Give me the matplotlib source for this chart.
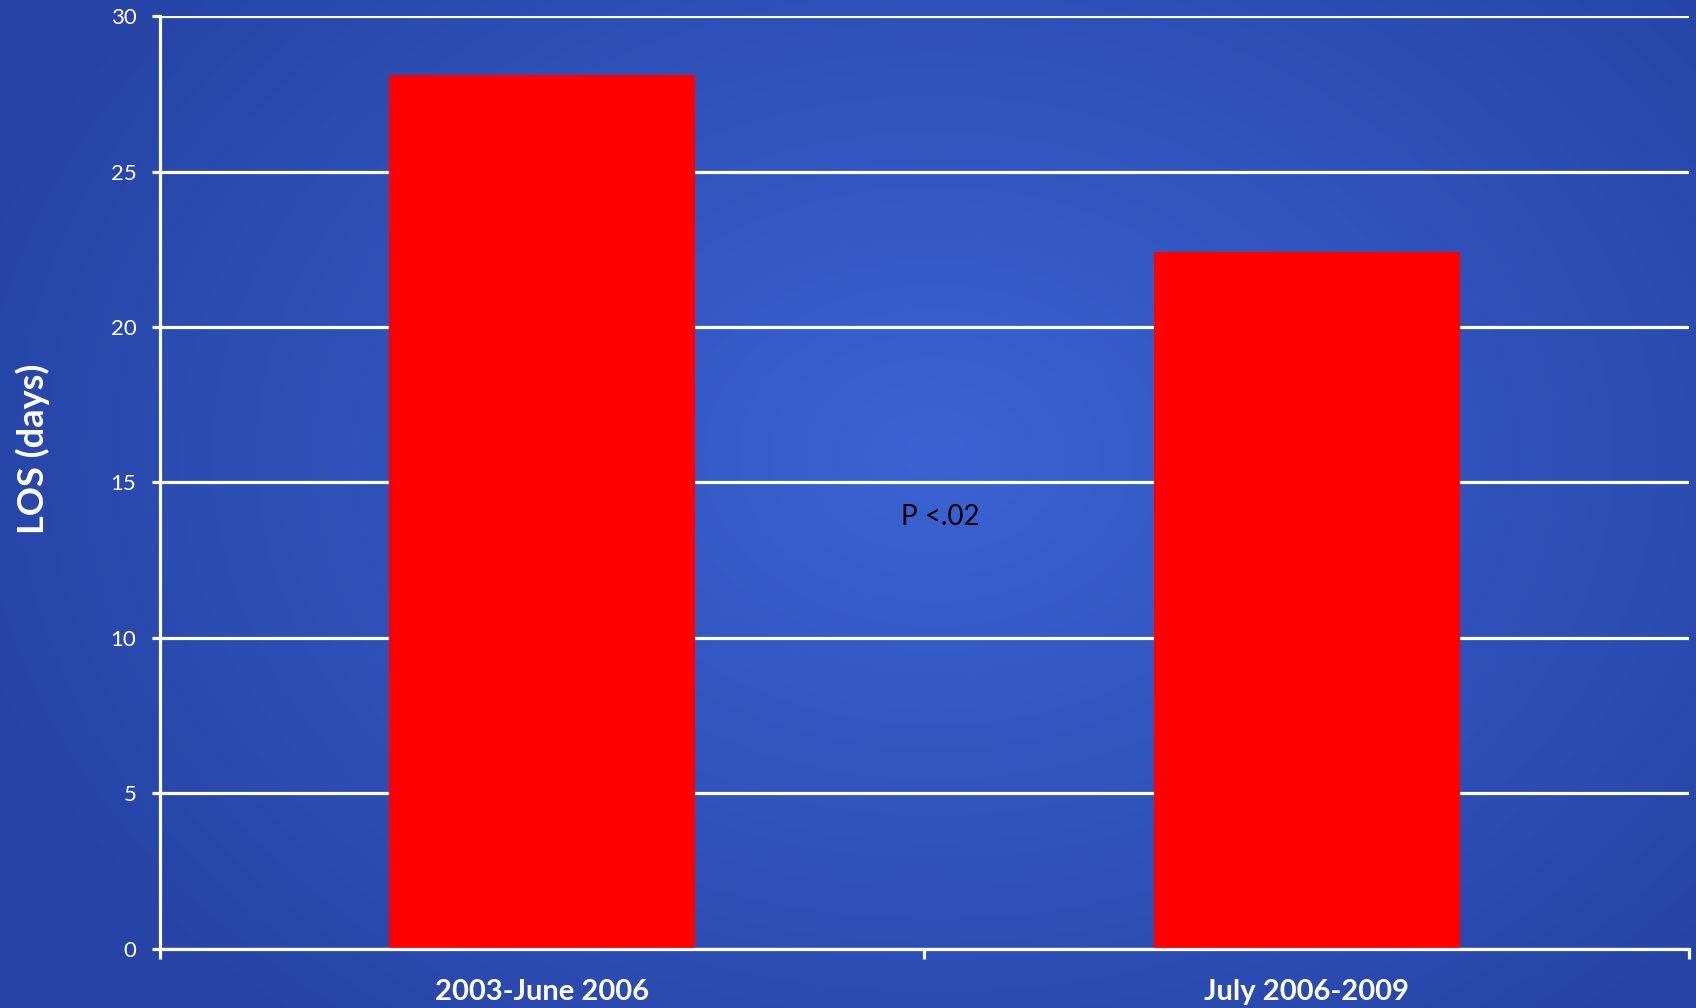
import numpy as np
import matplotlib
matplotlib.use("Agg")
import matplotlib.pyplot as plt
from matplotlib.colors import to_rgb

categories = ["2003-June 2006", "July 2006-2009"]
los_days = [28.1, 22.4]
y_ticks = [0, 5, 10, 15, 20, 25, 30]
annotation = "P <.02"

plt.rcParams['font.family'] = ['Lato', 'DejaVu Sans']

fig = plt.figure(figsize=(16.96, 10.08), dpi=100)

# background radial gradient
bg = fig.add_axes([0, 0, 1, 1], zorder=0)
bg.set_axis_off()
h, w = 252, 424
yy, xx = np.mgrid[0:h, 0:w]
cx, cy = w * 0.55, h * 0.45
r = np.sqrt(((xx - cx) / (w * 0.6)) ** 2 + ((yy - cy) / (h * 0.75)) ** 2)
r = np.clip(r, 0, 1)
c_center = np.array(to_rgb("#3b63d3"))
c_edge = np.array(to_rgb("#2644a6"))
img = c_center[None, None, :] * (1 - r[..., None]) + c_edge[None, None, :] * r[..., None]
bg.imshow(img, aspect='auto', extent=[0, 1, 0, 1], interpolation='bilinear')
bg.set_xlim(0, 1); bg.set_ylim(0, 1)

ax = fig.add_axes([0.0943, 0.0589, 0.9016, 0.925], zorder=1)
ax.patch.set_alpha(0)

x = np.arange(len(categories))
ax.bar(x, los_days, width=0.4, color="#ff0000", zorder=3)

ax.set_xlim(-0.5, 1.5)
ax.set_ylim(0, 30)
ax.set_yticks(y_ticks)
ax.set_yticklabels([str(t) for t in y_ticks], color="white", fontsize=16)
ax.yaxis.grid(True, color="white", linewidth=2.3, zorder=1)
ax.set_axisbelow(True)

ax.set_xticks([-0.5, 0.5, 1.5])
ax.set_xticklabels([])
ax.set_xticks(x, minor=True)
ax.set_xticklabels(categories, minor=True, color="white", fontsize=21, fontweight="bold")
ax.tick_params(axis='x', which='minor', length=0, pad=22)
ax.tick_params(axis='x', which='major', length=7, width=2.3, color="white", direction='out')
ax.tick_params(axis='y', length=6, width=2.3, color="white", pad=11)

for s in ["top", "right"]:
    ax.spines[s].set_visible(False)
for s in ["left", "bottom"]:
    ax.spines[s].set_color("white")
    ax.spines[s].set_linewidth(2.3)
ax.spines["bottom"].set_zorder(4)

ax.set_ylabel("LOS (days)", color="white", fontsize=26, fontweight="bold")
ax.yaxis.set_label_coords(-0.072, 0.536)
ax.text(0.52, 13.9, annotation, color="black", fontsize=20, ha="center", va="center")

fig.savefig("out.png", dpi=100)
